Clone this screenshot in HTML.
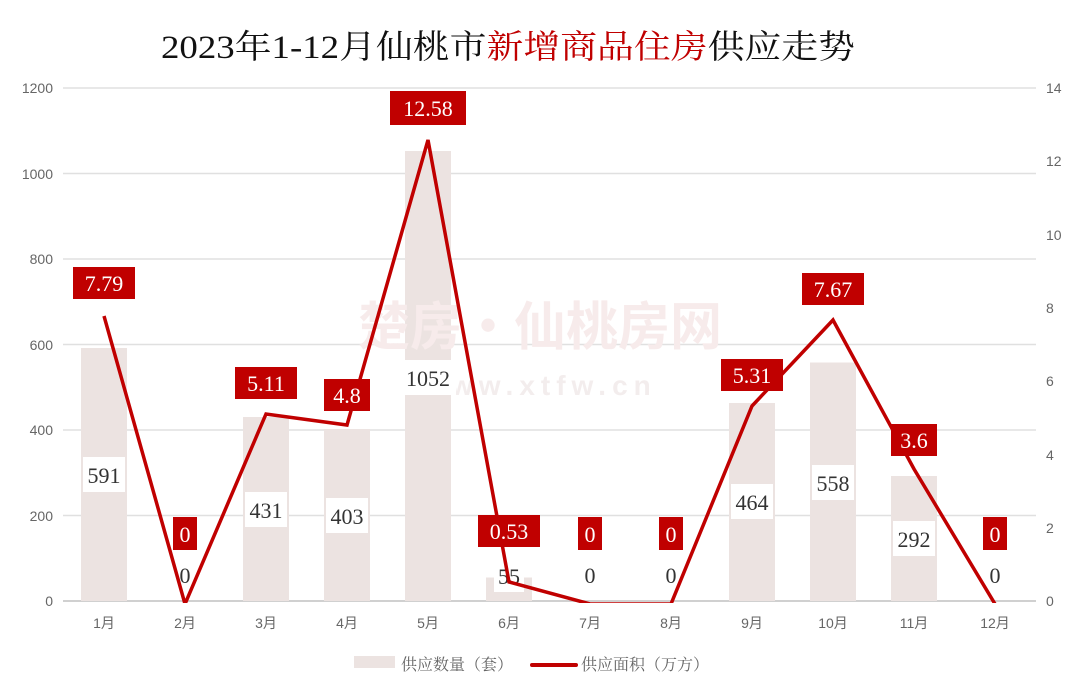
<!DOCTYPE html><html><head><meta charset="utf-8"><style>body{margin:0;background:#fff}svg{display:block}</style></head><body>
<svg width="1080" height="697" viewBox="0 0 1080 697" xmlns="http://www.w3.org/2000/svg" font-family="Liberation Serif, Noto Serif CJK SC, serif">
<rect width="1080" height="697" fill="#fff"/>
<text x="508" y="58" font-size="33" text-anchor="middle" fill="#111" font-family="Liberation Serif, Noto Serif CJK SC, serif" textLength="694" lengthAdjust="spacingAndGlyphs">2023年1-12月仙桃市<tspan fill="#c00000">新增商品住房</tspan>供应走势</text>
<g stroke="#e0e0e0" stroke-width="1.5">
<line x1="63" x2="1036" y1="88" y2="88"/><line x1="63" x2="1036" y1="173.5" y2="173.5"/><line x1="63" x2="1036" y1="259" y2="259"/><line x1="63" x2="1036" y1="344.5" y2="344.5"/><line x1="63" x2="1036" y1="430" y2="430"/><line x1="63" x2="1036" y1="515.5" y2="515.5"/></g>
<line x1="63" x2="1036" y1="601" y2="601" stroke="#d0d0d0" stroke-width="2"/>
<g font-family="Liberation Sans, sans-serif" font-size="14" fill="#666" text-anchor="end">
<text x="53" y="93">1200</text><text x="53" y="179">1000</text><text x="53" y="264">800</text><text x="53" y="350">600</text><text x="53" y="435">400</text><text x="53" y="521">200</text><text x="53" y="606">0</text></g>
<g font-family="Liberation Sans, sans-serif" font-size="14" fill="#666">
<text x="1046" y="93">14</text><text x="1046" y="166">12</text><text x="1046" y="240">10</text><text x="1046" y="313">8</text><text x="1046" y="386">6</text><text x="1046" y="460">4</text><text x="1046" y="533">2</text><text x="1046" y="606">0</text></g>
<g font-family="Liberation Sans, Noto Sans CJK SC, sans-serif" font-size="14" fill="#666" text-anchor="middle">
<text x="104" y="628">1月</text><text x="185" y="628">2月</text><text x="266" y="628">3月</text><text x="347" y="628">4月</text><text x="428" y="628">5月</text><text x="509" y="628">6月</text><text x="590" y="628">7月</text><text x="671" y="628">8月</text><text x="752" y="628">9月</text><text x="833" y="628">10月</text><text x="914" y="628">11月</text><text x="995" y="628">12月</text></g>
<g fill="#ece3e1">
<rect x="81" y="348" width="46" height="253"/><rect x="243" y="417" width="46" height="184"/><rect x="324" y="429" width="46" height="172"/><rect x="405" y="151" width="46" height="450"/><rect x="486" y="577.5" width="46" height="23.5"/><rect x="729" y="403" width="46" height="198"/><rect x="810" y="362.5" width="46" height="238.5"/><rect x="891" y="476" width="46" height="125"/></g>
<text x="540" y="345" font-size="52" fill="#f7ebeb" text-anchor="middle" font-family="Noto Sans CJK SC, sans-serif" font-weight="bold">楚房·仙桃房网</text>
<text x="540" y="395" font-size="28" fill="#f3eded" text-anchor="middle" font-family="Liberation Sans, sans-serif" font-weight="bold" letter-spacing="6">www.xtfw.cn</text>
<g fill="#fff">
<rect x="83" y="457" width="42" height="35"/><rect x="173" y="561" width="24" height="32"/><rect x="245" y="492" width="42" height="35"/><rect x="326" y="498" width="42" height="35"/><rect x="400" y="360" width="56" height="35"/><rect x="494" y="562" width="30" height="30"/><rect x="578" y="561" width="24" height="32"/><rect x="659" y="561" width="24" height="32"/><rect x="731" y="484" width="42" height="35"/><rect x="812" y="465" width="42" height="35"/><rect x="893" y="521" width="42" height="35"/><rect x="983" y="561" width="24" height="32"/></g>
<g font-size="22" fill="#333" text-anchor="middle">
<text x="104" y="483">591</text><text x="185" y="583">0</text><text x="266" y="518">431</text><text x="347" y="524">403</text><text x="428" y="386">1052</text><text x="509" y="584">55</text><text x="590" y="583">0</text><text x="671" y="583">0</text><text x="752" y="510">464</text><text x="833" y="491">558</text><text x="914" y="547">292</text><text x="995" y="583">0</text></g>
<svg x="0" y="0" width="1080" height="603" overflow="hidden">
<polyline fill="none" stroke="#c00000" stroke-width="3.5" stroke-linejoin="miter" points="104,316 185,604 266,414 347,425 428,140 509,582 590,604 671,604 752,406 833,320 914,469 995,604"/>
</svg>
<g fill="#c00000">
<rect x="73" y="267" width="62" height="32"/><rect x="173" y="517" width="24" height="33"/><rect x="235" y="367" width="62" height="32"/><rect x="324" y="379" width="46" height="32"/><rect x="390" y="91" width="76" height="34"/><rect x="478" y="515" width="62" height="32"/><rect x="578" y="517" width="24" height="33"/><rect x="659" y="517" width="24" height="33"/><rect x="721" y="359" width="62" height="32"/><rect x="802" y="273" width="62" height="32"/><rect x="891" y="424" width="46" height="32"/><rect x="983" y="517" width="24" height="33"/></g>
<g font-size="22" fill="#fff" text-anchor="middle">
<text x="104" y="291">7.79</text><text x="185" y="542">0</text><text x="266" y="391">5.11</text><text x="347" y="403">4.8</text><text x="428" y="116">12.58</text><text x="509" y="539">0.53</text><text x="590" y="542">0</text><text x="671" y="542">0</text><text x="752" y="383">5.31</text><text x="833" y="297">7.67</text><text x="914" y="448">3.6</text><text x="995" y="542">0</text></g>
<rect x="354" y="656" width="41" height="12" fill="#ece3e1"/>
<line x1="532" x2="576" y1="665" y2="665" stroke="#c00000" stroke-width="4" stroke-linecap="round"/>
<g font-family="Noto Serif CJK SC, serif" font-size="16" fill="#666">
<text x="401" y="670">供应数量（套）</text><text x="581" y="670">供应面积（万方）</text></g>
</svg>
</body></html>
